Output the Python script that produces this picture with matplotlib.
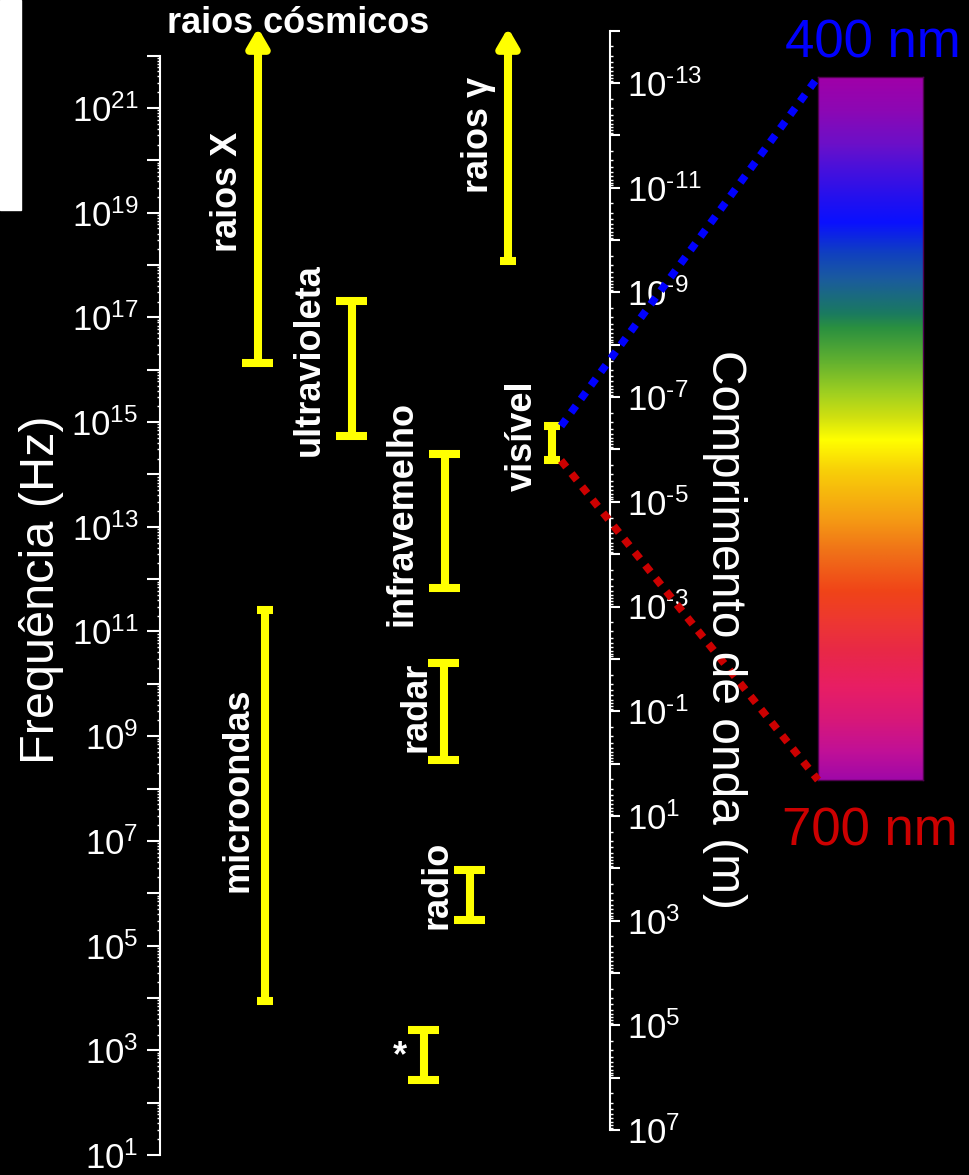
import numpy as np
import matplotlib
matplotlib.use('Agg')
import matplotlib.pyplot as plt
from matplotlib.ticker import FixedLocator, FuncFormatter, NullFormatter
from matplotlib.colors import LinearSegmentedColormap
from matplotlib.patches import Rectangle, ConnectionPatch

plt.rcParams['font.family'] = ['Liberation Sans', 'DejaVu Sans']
plt.rcParams['mathtext.fontset'] = 'custom'
plt.rcParams['mathtext.rm'] = 'Liberation Sans'
plt.rcParams['mathtext.it'] = 'Liberation Sans:italic'
plt.rcParams['mathtext.bf'] = 'Liberation Sans:bold'

# faixas do espectro (Hz)
bandas = ['raios X', 'raios $\\mathregular{\\gamma}$', 'ultravioleta', 'infravemelho', 'visível',
          'radar', 'radio', '*', 'microondas']
f_min = [1.35e16, 1.2e18, 5.4e14, 6.8e11, 1.85e14, 3.5e8, 3.1e5, 2.7e2, 8.7e3]
f_max = [3.4e22, 3.4e22, 2.06e17, 2.5e14, 8.4e14, 2.5e10, 2.8e6, 2.4e3, 2.6e11]
aberta = [True, True, False, False, False, False, False, False, False]

exp_freq = list(range(1, 23))      # 10^1 .. 10^22 Hz
exp_lambda = list(range(-14, 8))   # 10^-14 .. 10^7 m
C = 3e8

# layout (pixels of the 970x1175 picture)
W, H = 970, 1175
DEC = 52.35          # pixels per decade
Y_1HZ = 1155         # pixel row of 10^1 Hz
bar_x = [258, 508, 352, 445, 552, 444, 470, 424, 265]
cap_w = [31, 16, 31, 31, 16, 31, 31, 31, 16]
lab_xy = [(228, 192), (479, 135), (309, 360), (402, 514), (522, 436),
          (416, 707), (437, 885), (400, 1057), (238, 790)]
YEL = '#ffff00'


def fx(px):
    return px / W


def fy(py):
    return 1 - py / H


fig = plt.figure(figsize=(9.7, 11.75), dpi=100, facecolor='black')
fig.patches.append(Rectangle((0, fy(210)), fx(21), 210 / H, transform=fig.transFigure,
                             color='white', zorder=0))

ax = fig.add_axes([fx(160), 0, fx(970) - fx(160), 1])
ax.set_facecolor('none')
ax.set_xlim(160, 970)
ax.set_yscale('log')
ax.set_ylim(10 ** (1 - (H - Y_1HZ) / DEC), 10 ** (1 + Y_1HZ / DEC))
for s in ['top', 'right', 'bottom']:
    ax.spines[s].set_visible(False)
ax.spines['left'].set_color('white')
ax.spines['left'].set_linewidth(1.5)
ax.spines['left'].set_bounds(10.0 ** exp_freq[0], 10.0 ** exp_freq[-1])
ax.set_xticks([])


def fmt_odd(v, pos):
    e = int(round(np.log10(v)))
    if e % 2 == 0:
        return ''
    if e < 0:
        return '$\\mathregular{10^{\\text{-}%d}}$' % (-e)
    return '$\\mathregular{10^{%d}}$' % e


minor_f = [m * 10.0 ** e for e in exp_freq[:-1] for m in range(2, 10)]
ax.yaxis.set_major_locator(FixedLocator([10.0 ** e for e in exp_freq]))
ax.yaxis.set_major_formatter(FuncFormatter(fmt_odd))
ax.yaxis.set_minor_locator(FixedLocator(minor_f))
ax.yaxis.set_minor_formatter(NullFormatter())
ax.tick_params(axis='y', which='major', colors='white', length=9.5, width=1.5,
               labelsize=25, pad=6, direction='out')
ax.tick_params(axis='y', which='minor', colors='white', length=2, width=1)

# eixo do comprimento de onda
sec = ax.secondary_yaxis((610 - 160) / (970 - 160), functions=(lambda f: C / f, lambda l: C / l))
sec.spines['right'].set_color('white')
sec.spines['right'].set_linewidth(1.5)
sec.spines['right'].set_bounds(10.0 ** exp_lambda[0], 10.0 ** exp_lambda[-1])
minor_l = [m * 10.0 ** e for e in exp_lambda[:-1] for m in range(2, 10)]
sec.yaxis.set_major_locator(FixedLocator([10.0 ** e for e in exp_lambda]))
sec.yaxis.set_major_formatter(FuncFormatter(fmt_odd))
sec.yaxis.set_minor_locator(FixedLocator(minor_l))
sec.yaxis.set_minor_formatter(NullFormatter())
sec.tick_params(axis='y', which='major', colors='white', length=7, width=1.5,
                labelsize=25, pad=5, direction='out')
sec.tick_params(axis='y', which='minor', colors='white', length=2, width=1)

# barras
for i, nome in enumerate(bandas):
    x = bar_x[i]
    if aberta[i]:
        ax.annotate('', xy=(x, f_max[i]), xytext=(x, f_min[i]),
                    arrowprops=dict(arrowstyle='-|>,head_length=0.6,head_width=0.35',
                                    color=YEL, lw=5.8, mutation_scale=18,
                                    shrinkA=0, shrinkB=0))
        ax.hlines([f_min[i]], x - cap_w[i] / 2, x + cap_w[i] / 2, color=YEL, lw=5.8)
    else:
        ax.vlines(x, f_min[i], f_max[i], color=YEL, lw=5.8)
        ax.hlines([f_min[i], f_max[i]], x - cap_w[i] / 2, x + cap_w[i] / 2, color=YEL, lw=5.8)
    lx, ly = lab_xy[i]
    rot = 0 if nome == '*' else 90
    fig.text(fx(lx), fy(ly), nome, color='white', fontsize=26, fontweight='bold',
             rotation=rot, ha='center', va='center')

fig.text(fx(298), fy(33), 'raios cósmicos', color='white', fontsize=26,
         fontweight='bold', ha='center', va='baseline')

fig.text(fx(42), fy(590), 'Frequência (Hz)', color='white', fontsize=35,
         rotation=90, ha='center', va='center')
fig.text(fx(725), fy(630), 'Comprimento de onda (m)', color='white', fontsize=34.5,
         rotation=270, ha='center', va='center')

# espectro visível
stops = [(0.0, '#a000a8'), (0.047, '#8c08b4'), (0.094, '#6c10c8'), (0.13, '#4810dc'),
         (0.175, '#2010f0'), (0.206, '#0a10ff'), (0.25, '#1040c0'), (0.285, '#1a5aa0'),
         (0.336, '#1a7a60'), (0.356, '#2a9040'), (0.403, '#60b030'), (0.45, '#a0d020'),
         (0.484, '#d0e010'), (0.516, '#ffff00'), (0.559, '#f8d008'), (0.63, '#f59a14'),
         (0.677, '#f07018'), (0.732, '#f04418'), (0.772, '#ee3830'), (0.819, '#e82848'),
         (0.868, '#e81e64'), (0.914, '#d81878'), (0.961, '#c01098'), (1.0, '#a008a8')]
cmap = LinearSegmentedColormap.from_list('visivel', stops, N=512)
cax = fig.add_axes([fx(818), fy(780), fx(923) - fx(818), (780 - 77) / H])
cax.imshow(np.linspace(0, 1, 512)[:, None], cmap=cmap, aspect='auto', origin='upper',
           extent=(0, 1, 0, 1))
cax.set_xticks([])
cax.set_yticks([])
for s in cax.spines.values():
    s.set_color('#500050')
    s.set_linewidth(1)

vis = bandas.index('visível')
for fv, yb, cor in [(f_max[vis], 1.0, '#0000ff'), (f_min[vis], 0.0, '#cc0000')]:
    con = ConnectionPatch(xyA=(bar_x[vis] + 9, fv), coordsA=ax.transData,
                          xyB=(0, yb), coordsB=cax.transAxes,
                          color=cor, lw=5.5, linestyle=(0, (1.1, 1.1)))
    con.set_capstyle('butt')
    fig.add_artist(con)

fig.text(fx(873), fy(58), '400 nm', color='#0000ff', fontsize=38, ha='center', va='baseline')
fig.text(fx(870), fy(846), '700 nm', color='#cc0000', fontsize=38, ha='center', va='baseline')

fig.savefig('out.png', dpi=100, facecolor='black')
